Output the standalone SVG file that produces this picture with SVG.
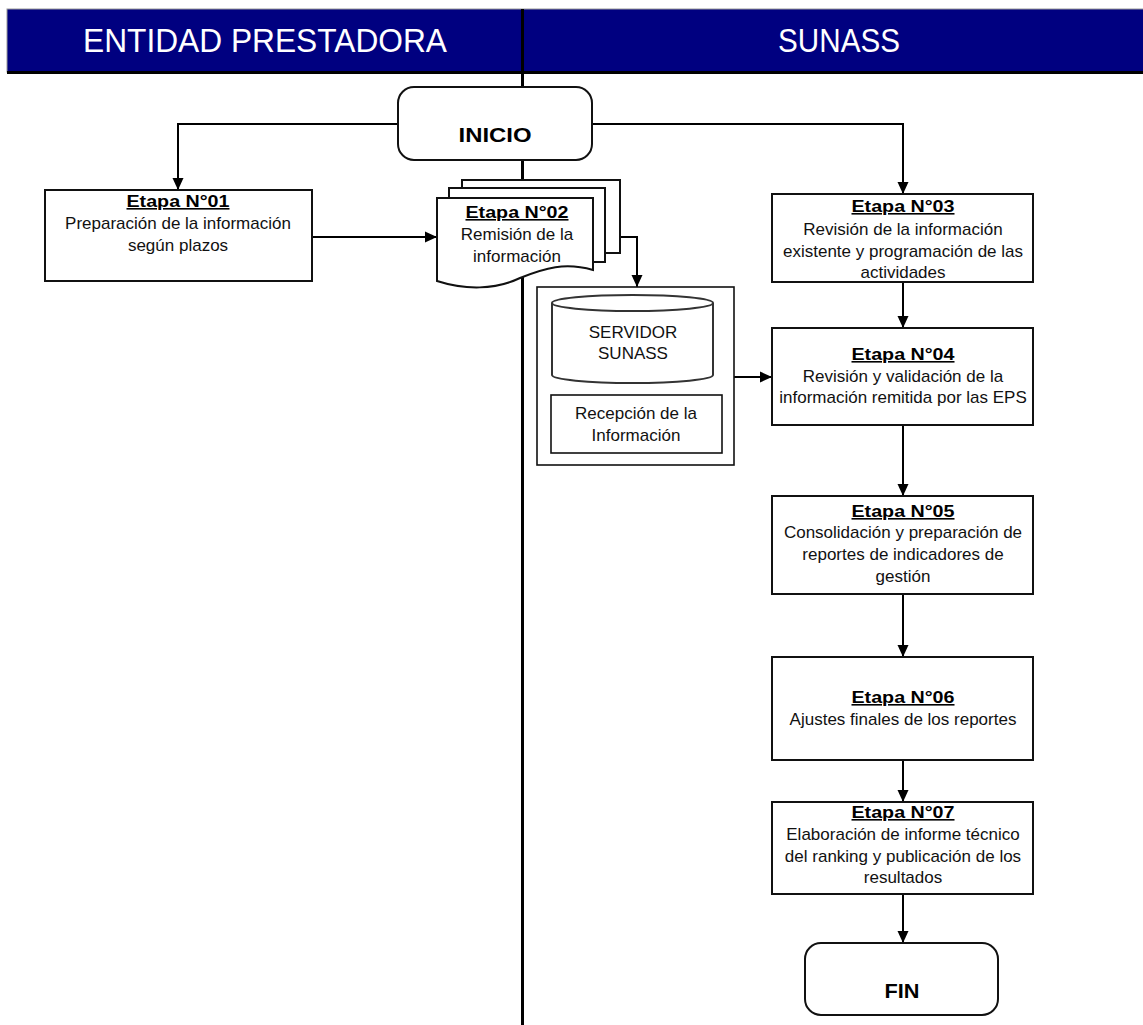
<svg xmlns="http://www.w3.org/2000/svg" width="1143" height="1025" viewBox="0 0 1143 1025">
<style>
.box{fill:#fff;stroke:#111;stroke-width:2}
.thin{fill:#fff;stroke:#111;stroke-width:1.6}
.conn{fill:none;stroke:#000;stroke-width:2}
.hdr{font-family:"Liberation Sans",Arial,sans-serif;font-size:33px;fill:#fff;text-anchor:middle}
.t{font-family:"Liberation Sans",Arial,sans-serif;font-size:17px;fill:#111;text-anchor:middle}
.ti{font-family:"Liberation Sans",Arial,sans-serif;font-size:16px;font-weight:bold;fill:#000;text-anchor:middle;text-decoration:underline}
.big{font-family:"Liberation Sans",Arial,sans-serif;font-size:21px;font-weight:bold;fill:#000;text-anchor:middle}
</style>
<defs>
<marker id="arr" viewBox="0 0 12 12" refX="12" refY="6" markerWidth="12" markerHeight="12" markerUnits="userSpaceOnUse" orient="auto">
<path d="M0,0.5 L12,6 L0,11.5 Z" fill="#000"/>
</marker>
</defs>
<rect width="1143" height="1025" fill="#fff"/>
<g id="header">
<rect x="7" y="9" width="1140" height="63" fill="#000080" stroke="#999" stroke-width="1"/>
<rect x="7" y="71" width="1140" height="3" fill="#000"/>
<text class="hdr" x="265" y="52" textLength="364" lengthAdjust="spacingAndGlyphs">ENTIDAD PRESTADORA</text>
<text class="hdr" x="839" y="52" textLength="122" lengthAdjust="spacingAndGlyphs">SUNASS</text>
</g>
<g id="divider"><rect x="521" y="9" width="3" height="1016" fill="#000"/></g>
<g id="connectors">
<polyline class="conn" points="398,124 178,124 178,190" marker-end="url(#arr)"/>
<polyline class="conn" points="592,124 903,124 903,194" marker-end="url(#arr)"/>
<line class="conn" x1="312" y1="237" x2="437" y2="237" marker-end="url(#arr)"/>
<polyline class="conn" points="620,237 637,237 637,287" marker-end="url(#arr)"/>
<line class="conn" x1="734" y1="377" x2="772" y2="377" marker-end="url(#arr)"/>
<line class="conn" x1="903" y1="282" x2="903" y2="328" marker-end="url(#arr)"/>
<line class="conn" x1="903" y1="425" x2="903" y2="496" marker-end="url(#arr)"/>
<line class="conn" x1="903" y1="594" x2="903" y2="657" marker-end="url(#arr)"/>
<line class="conn" x1="903" y1="760" x2="903" y2="802" marker-end="url(#arr)"/>
<line class="conn" x1="903" y1="894" x2="903" y2="943" marker-end="url(#arr)"/>
</g>
<g id="inicio">
<rect class="box" x="398" y="87" width="194" height="73" rx="16"/>
<text class="big" x="495" y="142" textLength="73" lengthAdjust="spacingAndGlyphs">INICIO</text>
</g>
<g id="etapa01">
<rect class="box" x="45" y="190" width="267" height="91"/>
<text class="ti" x="178" y="207" textLength="103" lengthAdjust="spacingAndGlyphs">Etapa N°01</text>
<text class="t" x="178" y="229">Preparación de la información</text>
<text class="t" x="178" y="251">según plazos</text>
</g>
<g id="etapa02">
<rect class="box" x="462" y="180" width="158" height="73"/>
<rect class="box" x="449" y="188" width="156" height="74"/>
<path class="box" d="M437,198 H593 V270 C565,262 545,268 520,278 C495,290 465,290 437,281 Z"/>
<text class="ti" x="517" y="218" textLength="103" lengthAdjust="spacingAndGlyphs">Etapa N°02</text>
<text class="t" x="517" y="240">Remisión de la</text>
<text class="t" x="517" y="262">información</text>
</g>
<g id="servidor">
<rect class="thin" x="537" y="287" width="197" height="178"/>
<path d="M552,303 V375 A80.5,8 0 0 0 713,375 V303" fill="#fff" stroke="#333" stroke-width="2"/>
<ellipse cx="632.5" cy="303" rx="80.5" ry="8" fill="#fff" stroke="#333" stroke-width="2"/>
<text class="t" x="633" y="338">SERVIDOR</text>
<text class="t" x="633" y="359">SUNASS</text>
<rect class="thin" x="551" y="395" width="171" height="58"/>
<text class="t" x="636" y="419">Recepción de la</text>
<text class="t" x="636" y="441">Información</text>
</g>
<g id="etapa03">
<rect class="box" x="772" y="194" width="261" height="88"/>
<text class="ti" x="903" y="212" textLength="103" lengthAdjust="spacingAndGlyphs">Etapa N°03</text>
<text class="t" x="903" y="235">Revisión de la información</text>
<text class="t" x="903" y="257">existente y programación de las</text>
<text class="t" x="903" y="278">actividades</text>
</g>
<g id="etapa04">
<rect class="box" x="772" y="328" width="261" height="97"/>
<text class="ti" x="903" y="360" textLength="103" lengthAdjust="spacingAndGlyphs">Etapa N°04</text>
<text class="t" x="903" y="382">Revisión y validación de la</text>
<text class="t" x="903" y="403">información remitida por las EPS</text>
</g>
<g id="etapa05">
<rect class="box" x="772" y="496" width="261" height="98"/>
<text class="ti" x="903" y="517" textLength="103" lengthAdjust="spacingAndGlyphs">Etapa N°05</text>
<text class="t" x="903" y="538">Consolidación y preparación de</text>
<text class="t" x="903" y="560">reportes de indicadores de</text>
<text class="t" x="903" y="582">gestión</text>
</g>
<g id="etapa06">
<rect class="box" x="772" y="657" width="261" height="103"/>
<text class="ti" x="903" y="703" textLength="103" lengthAdjust="spacingAndGlyphs">Etapa N°06</text>
<text class="t" x="903" y="725">Ajustes finales de los reportes</text>
</g>
<g id="etapa07">
<rect class="box" x="772" y="802" width="261" height="92"/>
<text class="ti" x="903" y="818" textLength="103" lengthAdjust="spacingAndGlyphs">Etapa N°07</text>
<text class="t" x="903" y="840">Elaboración de informe técnico</text>
<text class="t" x="903" y="862">del ranking y publicación de los</text>
<text class="t" x="903" y="883">resultados</text>
</g>
<g id="fin">
<rect class="box" x="805" y="943" width="193" height="72" rx="16"/>
<text class="big" x="902" y="998" textLength="35" lengthAdjust="spacingAndGlyphs">FIN</text>
</g>
</svg>
